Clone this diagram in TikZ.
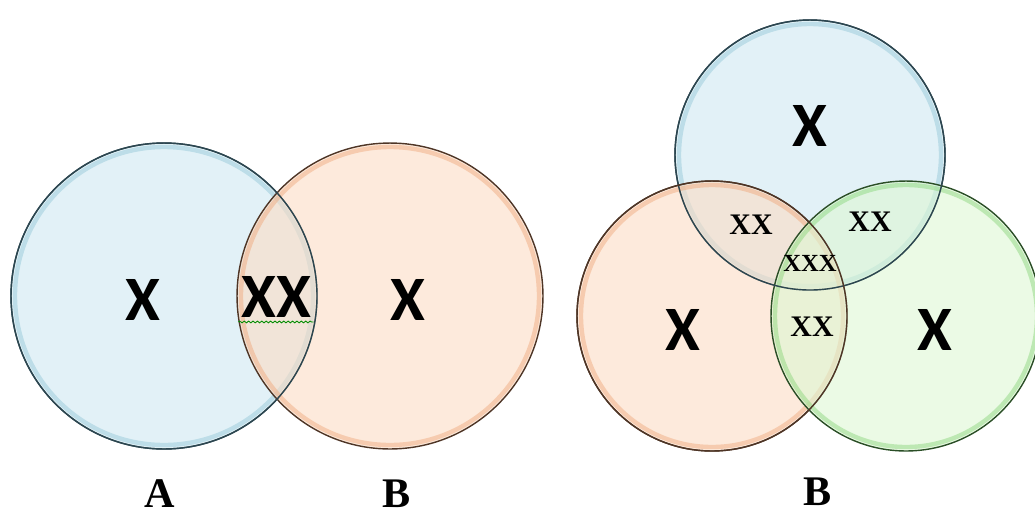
\documentclass[tikz,border=0pt]{standalone}
\usepackage{fontspec}
\setmainfont{Liberation Serif}
\setsansfont{Carlito}
\usetikzlibrary{decorations.pathmorphing}
\definecolor{skyfill}{HTML}{CFE8F1}
\definecolor{skyrim}{HTML}{8FC6D8}
\definecolor{skyedge}{HTML}{2C4650}
\definecolor{peachfill}{HTML}{FBDCC4}
\definecolor{peachrim}{HTML}{EFA679}
\definecolor{peachedge}{HTML}{4E3526}
\definecolor{mintfill}{HTML}{DDF7D3}
\definecolor{mintrim}{HTML}{86D477}
\definecolor{mintedge}{HTML}{2A4E26}
\tikzset{
  setbig/.style={circle,inner sep=0pt,minimum size=6.12cm,fill opacity=0.6,line width=0.8pt},
  setsmall/.style={circle,inner sep=0pt,minimum size=5.4cm,fill opacity=0.6,line width=0.8pt},
  bigx/.style={font=\sffamily\bfseries\fontsize{36}{36}\selectfont},
  smallx/.style={font=\bfseries\fontsize{17}{17}\selectfont},
  setname/.style={inner sep=0pt,font=\bfseries\fontsize{24}{24}\selectfont},
}
\begin{document}
\begin{tikzpicture}[x=0.02cm,y=-0.02cm]
  \useasboundingbox (0,0) rectangle (1035,515);
  % left diagram
  \node[setbig,fill=skyfill,draw=skyedge] (setA) at (164,296) {};
  \draw[skyrim,line width=2.5pt,opacity=0.45] (164,296) circle[radius=149];
  \node[setbig,fill=peachfill,draw=peachedge] (setB) at (390,296) {};
  \draw[peachrim,line width=2.5pt,opacity=0.45] (390,296) circle[radius=149];
  \draw[skyedge,line width=0.8pt] (setA) circle[radius=153];
  \node[bigx] (onlyA) at (143,300) {X};
  \node[bigx] (bothAB) at (276,297) {XX};
  \node[bigx] (onlyB) at (408,300) {X};
  \draw[decorate,decoration={snake,amplitude=0.5pt,segment length=2.5pt},green!55!black,line width=0.5pt]
    ([xshift=2pt,yshift=1pt]bothAB.south west) -- ([xshift=-2pt,yshift=1pt]bothAB.south east);
  \node[setname] (nameA) at (160,494) {A};
  \node[setname] (nameB) at (397,494) {B};
  % right diagram
  \node[setsmall,fill=skyfill,draw=skyedge] (setT) at (810,155) {};
  \draw[skyrim,line width=2.5pt,opacity=0.45] (810,155) circle[radius=131];
  \node[setsmall,fill=peachfill,draw=peachedge] (setL) at (712,316) {};
  \draw[peachrim,line width=2.5pt,opacity=0.45] (712,316) circle[radius=131];
  \node[setsmall,fill=mintfill,draw=mintedge] (setR) at (906,316) {};
  \draw[mintrim,line width=2.5pt,opacity=0.45] (906,316) circle[radius=131];
  \draw[skyedge,line width=0.8pt] (setT) circle[radius=135];
  \draw[peachedge,line width=0.8pt] (setL) circle[radius=135];
  \node[bigx] (onlyT) at (810,126) {X};
  \node[bigx] (onlyL) at (683,330) {X};
  \node[bigx] (onlyR) at (935,330) {X};
  \node[smallx] (tl) at (751,225) {XX};
  \node[smallx] (tr) at (870,222) {XX};
  \node[smallx] (lr) at (812,327) {XX};
  \node[smallx,font=\bfseries\fontsize{14}{14}\selectfont] (all) at (810,263) {XXX};
  \node[setname] (nameC) at (818,492) {B};
\end{tikzpicture}
\end{document}
